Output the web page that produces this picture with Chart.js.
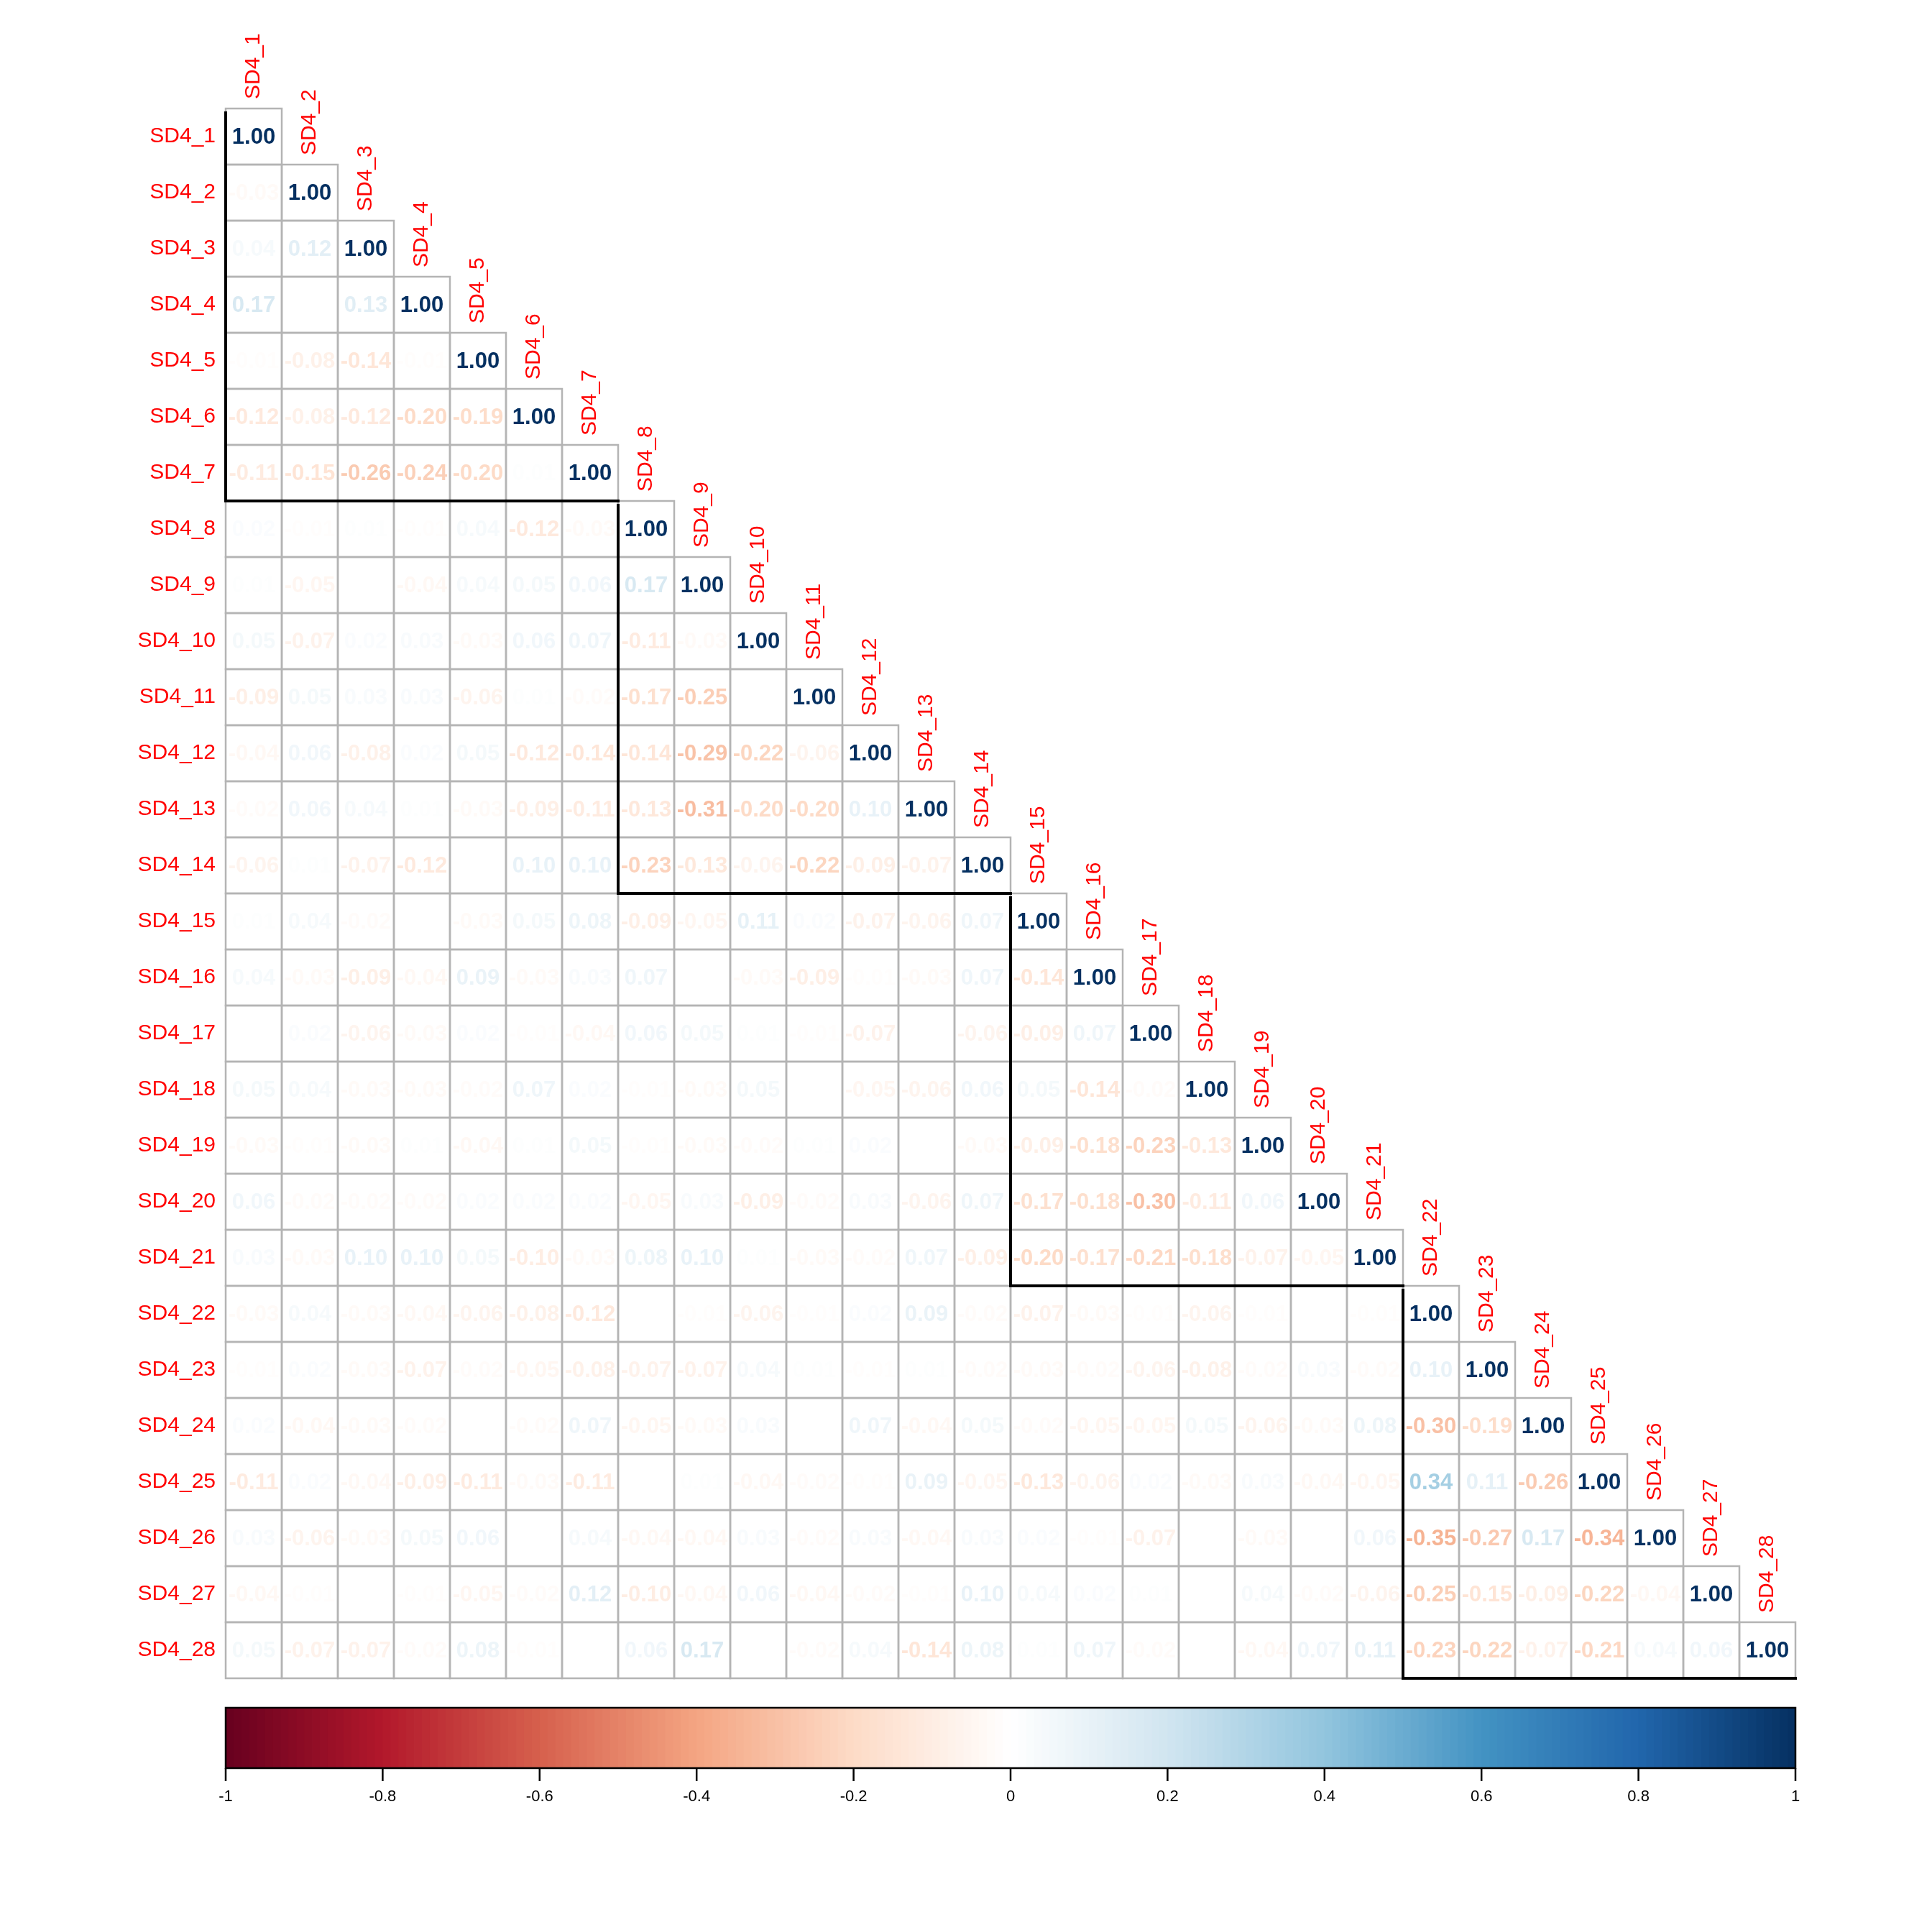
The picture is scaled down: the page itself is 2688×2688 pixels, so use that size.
<!DOCTYPE html>
<html>
<head>
<meta charset="utf-8">
<script src="https://cdn.jsdelivr.net/npm/chart.js@4.4.1/dist/chart.umd.min.js"></script>
<style>
  html, body { margin: 0; padding: 0; background: #fff; }
  #wrap { width: 2688px; height: 2688px; }
</style>
</head>
<body>
<div id="wrap"><canvas id="corrChart" width="2688" height="2688"></canvas></div>
<script>
// variable names (rows and columns)
const varNames = ['SD4_1', 'SD4_2', 'SD4_3', 'SD4_4', 'SD4_5', 'SD4_6', 'SD4_7',
    'SD4_8', 'SD4_9', 'SD4_10', 'SD4_11', 'SD4_12', 'SD4_13', 'SD4_14',
    'SD4_15', 'SD4_16', 'SD4_17', 'SD4_18', 'SD4_19', 'SD4_20', 'SD4_21',
    'SD4_22', 'SD4_23', 'SD4_24', 'SD4_25', 'SD4_26', 'SD4_27', 'SD4_28'];

// lower triangle of the correlation matrix, row by row
const corrLower = [
    [1.00],
    [-0.03, 1.00],
    [0.04, 0.12, 1.00],
    [0.17, 0.00, 0.13, 1.00],
    [-0.01, -0.08, -0.14, -0.01, 1.00],
    [-0.12, -0.08, -0.12, -0.20, -0.19, 1.00],
    [-0.11, -0.15, -0.26, -0.24, -0.20, 0.01, 1.00],
    [0.02, -0.01, 0.01, -0.01, 0.04, -0.12, -0.03, 1.00],
    [0.01, -0.05, 0.00, -0.04, 0.04, 0.05, 0.06, 0.17, 1.00],
    [0.05, -0.07, 0.02, 0.03, -0.03, 0.06, 0.07, -0.11, -0.03, 1.00],
    [-0.09, 0.05, 0.03, 0.03, -0.06, 0.01, -0.02, -0.17, -0.25, 0.00, 1.00],
    [-0.04, 0.06, -0.08, 0.02, 0.05, -0.12, -0.14, -0.14, -0.29, -0.22, -0.06, 1.00],
    [-0.02, 0.06, 0.04, 0.01, -0.03, -0.09, -0.11, -0.13, -0.31, -0.20, -0.20, 0.10, 1.00],
    [-0.06, 0.01, -0.07, -0.12, 0.00, 0.10, 0.10, -0.23, -0.13, -0.06, -0.22, -0.09, -0.07, 1.00],
    [0.01, 0.04, -0.02, 0.00, -0.03, 0.05, 0.08, -0.09, -0.05, 0.11, 0.02, -0.07, -0.06, 0.07, 1.00],
    [0.04, -0.03, -0.09, -0.04, 0.09, -0.03, 0.03, 0.07, 0.00, -0.03, -0.09, -0.01, -0.03, 0.07, -0.14, 1.00],
    [0.00, 0.02, -0.06, -0.03, 0.02, -0.01, -0.04, 0.06, 0.05, 0.01, -0.01, -0.07, 0.00, -0.06, -0.09, 0.07, 1.00],
    [0.05, 0.04, -0.03, -0.03, -0.02, 0.07, 0.02, -0.01, -0.03, 0.05, 0.00, -0.05, -0.06, 0.06, 0.05, -0.14, -0.02, 1.00],
    [-0.03, -0.01, -0.03, 0.01, -0.04, 0.01, 0.05, -0.01, -0.03, -0.02, 0.01, 0.02, 0.00, -0.03, -0.09, -0.18, -0.23, -0.13, 1.00],
    [0.06, -0.02, -0.02, -0.02, 0.02, 0.02, 0.02, -0.05, 0.03, -0.09, -0.02, 0.03, -0.06, 0.07, -0.17, -0.18, -0.30, -0.11, 0.06, 1.00],
    [0.03, -0.03, 0.10, 0.10, 0.05, -0.10, -0.03, 0.08, 0.10, 0.01, -0.03, -0.02, 0.07, -0.09, -0.20, -0.17, -0.21, -0.18, -0.07, -0.05, 1.00],
    [-0.03, 0.04, -0.03, -0.04, -0.06, -0.08, -0.12, 0.00, -0.01, -0.06, -0.01, 0.02, 0.09, -0.02, -0.07, -0.03, -0.01, -0.06, -0.01, 0.00, -0.01, 1.00],
    [-0.01, 0.02, -0.03, -0.07, -0.02, -0.05, -0.08, -0.07, -0.07, 0.04, 0.01, -0.01, 0.01, -0.02, -0.03, -0.02, -0.06, -0.08, -0.02, 0.03, -0.02, 0.10, 1.00],
    [0.02, -0.04, -0.03, -0.02, 0.00, -0.02, 0.07, -0.05, -0.03, 0.03, 0.00, 0.07, -0.04, 0.05, -0.02, -0.05, -0.05, 0.05, -0.06, -0.03, 0.08, -0.30, -0.19, 1.00],
    [-0.11, 0.02, -0.04, -0.09, -0.11, -0.03, -0.11, 0.00, 0.01, -0.04, -0.02, -0.01, 0.09, -0.05, -0.13, -0.06, 0.02, -0.03, 0.03, -0.04, -0.05, 0.34, 0.11, -0.26, 1.00],
    [0.03, -0.06, -0.03, 0.05, 0.06, 0.00, 0.04, -0.04, -0.04, 0.03, -0.02, 0.03, -0.04, 0.03, 0.02, -0.01, -0.07, 0.00, -0.03, 0.00, 0.06, -0.35, -0.27, 0.17, -0.34, 1.00],
    [-0.04, -0.01, 0.00, -0.01, -0.05, -0.02, 0.12, -0.10, -0.04, 0.06, -0.04, -0.02, -0.01, 0.10, 0.04, 0.02, 0.01, 0.00, 0.04, -0.02, -0.06, -0.25, -0.15, -0.09, -0.22, -0.04, 1.00],
    [0.05, -0.07, -0.07, -0.02, 0.08, -0.01, 0.00, 0.06, 0.17, 0.00, -0.02, 0.04, -0.14, 0.08, 0.01, 0.07, -0.02, 0.00, -0.04, 0.07, 0.11, -0.23, -0.22, -0.07, -0.21, 0.04, 0.06, 1.00]
];

// hierarchical cluster blocks (first and last variable index)
const clusterBlocks = [[1, 7], [8, 14], [15, 21], [22, 28]];

// colour legend ticks
const legendTicks = [-1, -0.8, -0.6, -0.4, -0.2, 0, 0.2, 0.4, 0.6, 0.8, 1];
const legendTickLabels = ['-1', '-0.8', '-0.6', '-0.4', '-0.2', '0', '0.2', '0.4', '0.6', '0.8', '1'];

// RdBu palette stops, -1 -> 1
const rdBu = ['#67001F', '#B2182B', '#D6604D', '#F4A582', '#FDDBC7', '#FFFFFF',
    '#D1E5F0', '#92C5DE', '#4393C3', '#2166AC', '#053061'];

function hexRgb(h) {
    return [parseInt(h.slice(1, 3), 16), parseInt(h.slice(3, 5), 16), parseInt(h.slice(5, 7), 16)];
}

function corrColor(v) {
    const t = Math.max(0, Math.min(1, (v + 1) / 2)) * (rdBu.length - 1);
    const i = Math.min(Math.floor(t), rdBu.length - 2);
    const f = t - i;
    const a = hexRgb(rdBu[i]), b = hexRgb(rdBu[i + 1]);
    const c = a.map((x, k) => Math.round(x + (b[k] - x) * f));
    return `rgb(${c[0]}, ${c[1]}, ${c[2]})`;
}

// one point per cell of the lower triangle
const cells = [];
corrLower.forEach((row, r) => {
    row.forEach((v, c) => cells.push({ x: c + 1, y: r + 1, v: v }));
});

const labelFont = '30px "Liberation Sans", Arial, sans-serif';
const numberFont = 'bold 31px "Liberation Sans", Arial, sans-serif';

const corrPlot = {
    id: 'corrPlot',
    beforeDatasetsDraw(chart) {
        const ctx = chart.ctx;
        const xs = chart.scales.x, ys = chart.scales.y;
        ctx.save();
        // cell borders
        ctx.strokeStyle = '#b4b4b4';
        ctx.lineWidth = 2.5;
        cells.forEach(d => {
            const x0 = xs.getPixelForValue(d.x - 0.5), x1 = xs.getPixelForValue(d.x + 0.5);
            const y0 = ys.getPixelForValue(d.y - 0.5), y1 = ys.getPixelForValue(d.y + 0.5);
            ctx.strokeRect(x0, y0, x1 - x0, y1 - y0);
        });

        // row labels
        ctx.font = labelFont;
        ctx.fillStyle = '#ff0000';
        ctx.textAlign = 'right';
        ctx.textBaseline = 'middle';
        varNames.forEach((name, i) => {
            ctx.fillText(name, xs.left - 14, ys.getPixelForValue(i + 1));
        });

        // column labels, rotated, sitting on top of the diagonal cell
        ctx.textAlign = 'left';
        varNames.forEach((name, i) => {
            ctx.save();
            ctx.translate(xs.getPixelForValue(i + 1), ys.getPixelForValue(i + 0.5) - 13);
            ctx.rotate(-Math.PI / 2);
            ctx.fillText(name, 0, 0);
            ctx.restore();
        });
        ctx.restore();
    },
    afterDatasetsDraw(chart) {
        const ctx = chart.ctx;
        const xs = chart.scales.x, ys = chart.scales.y, cb = chart.scales.cb;
        const meta = chart.getDatasetMeta(0);
        ctx.save();

        // numbers
        ctx.font = numberFont;
        ctx.textAlign = 'center';
        ctx.textBaseline = 'middle';
        meta.data.forEach((pt, k) => {
            const v = cells[k].v;
            ctx.fillStyle = corrColor(v);
            ctx.fillText(v.toFixed(2), pt.x, pt.y + 1);
        });

        // cluster rectangles (lower part only)
        ctx.strokeStyle = '#000';
        ctx.lineWidth = 4;
        ctx.lineCap = 'square';
        clusterBlocks.forEach(([a, b]) => {
            ctx.beginPath();
            ctx.moveTo(xs.getPixelForValue(a - 0.5), ys.getPixelForValue(a - 0.5) + 6);
            ctx.lineTo(xs.getPixelForValue(a - 0.5), ys.getPixelForValue(b + 0.5));
            ctx.lineTo(xs.getPixelForValue(b + 0.5), ys.getPixelForValue(b + 0.5));
            ctx.stroke();
        });

        // colour legend
        const barTop = chart.chartArea.bottom + 41;
        const barH = 84;
        const steps = 200;
        for (let i = 0; i < steps; i++) {
            const v0 = -1 + 2 * i / steps, v1 = -1 + 2 * (i + 1) / steps;
            const px0 = cb.getPixelForValue(v0), px1 = cb.getPixelForValue(v1);
            ctx.fillStyle = corrColor((v0 + v1) / 2);
            ctx.fillRect(px0, barTop, px1 - px0 + 0.8, barH);
        }
        ctx.lineWidth = 2.5;
        ctx.strokeStyle = '#000';
        ctx.lineCap = 'butt';
        ctx.strokeRect(cb.getPixelForValue(-1), barTop, cb.getPixelForValue(1) - cb.getPixelForValue(-1), barH);

        ctx.font = '22px "Liberation Sans", Arial, sans-serif';
        ctx.fillStyle = '#000';
        ctx.textAlign = 'center';
        ctx.textBaseline = 'middle';
        legendTicks.forEach((t, i) => {
            const px = cb.getPixelForValue(t);
            ctx.beginPath();
            ctx.moveTo(px, barTop + barH);
            ctx.lineTo(px, barTop + barH + 18);
            ctx.stroke();
            ctx.fillText(legendTickLabels[i], px, barTop + barH + 40);
        });
        ctx.restore();
    }
};

const ctx = document.getElementById('corrChart').getContext('2d');
const corrChart = new Chart(ctx, {
    type: 'scatter',
    data: {
        datasets: [{
            data: cells,
            pointRadius: 0,
            pointHoverRadius: 0
        }]
    },
    options: {
        responsive: false,
        animation: false,
        devicePixelRatio: 1,
        layout: { padding: { left: 314, top: 151, right: 190, bottom: 353 } },
        plugins: {
            legend: { display: false },
            tooltip: { enabled: false }
        },
        scales: {
            x: { type: 'linear', min: 0.5, max: 28.5, display: false },
            y: { type: 'linear', min: 0.5, max: 28.5, reverse: true, display: false },
            cb: { type: 'linear', axis: 'x', min: -1, max: 1, display: false }
        }
    },
    plugins: [corrPlot]
});
</script>
</body>
</html>
